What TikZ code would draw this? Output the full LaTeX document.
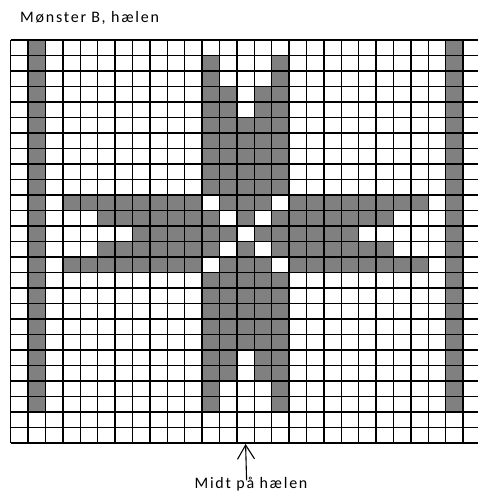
\documentclass[tikz,border=0pt]{standalone}
\usepackage{fontspec}
\setmainfont{Carlito}[LetterSpace=11]
\usepackage{tikz}
\usetikzlibrary{arrows.meta}

\begin{document}
\begin{tikzpicture}[
    x=1pt, y=-1pt,
    gitter/.style={draw=black, line width=1.3pt},
    celle/.style={fill=black!50},
    tekst/.style={inner sep=0pt, font=\fontsize{16}{19}\selectfont},
    pil/.style={-{Straight Barb[length=14pt, width=17pt]}, line width=1.1pt}
]
\useasboundingbox (0,0) rectangle (478,491);
\node[tekst, anchor=base west] (tittel) at (20,22.3) {Mønster B, hælen};

% strikkediagram: 27 masker x 26 pinder
\begin{scope}[shift={(10.7,40)}, x=17.4pt, y=-15.5pt]
  \foreach \r/\cs in {0/{1,25}, 1/{1,11,15,25}, 2/{1,11,15,25},
      3/{1,11,12,14,15,25}, 4/{1,11,12,14,15,25},
      5/{1,11,12,13,14,15,25}, 6/{1,11,12,13,14,15,25},
      7/{1,11,12,13,14,15,25}, 8/{1,11,12,13,14,15,25},
      9/{1,11,12,13,14,15,25},
      10/{1,3,4,5,6,7,8,9,10,12,13,14,16,17,18,19,20,21,22,23,25},
      11/{1,5,6,7,8,9,10,11,13,15,16,17,18,19,20,21,25},
      12/{1,7,8,9,10,11,12,14,15,16,17,18,19,25},
      13/{1,5,6,7,8,9,10,11,13,15,16,17,18,19,20,21,25},
      14/{1,3,4,5,6,7,8,9,10,12,13,14,16,17,18,19,20,21,22,23,25},
      15/{1,11,12,13,14,15,25}, 16/{1,11,12,13,14,15,25},
      17/{1,11,12,13,14,15,25}, 18/{1,11,12,13,14,15,25},
      19/{1,11,12,13,14,15,25},
      20/{1,11,12,14,15,25}, 21/{1,11,12,14,15,25},
      22/{1,11,15,25}, 23/{1,11,15,25}}
    \foreach \c in \cs
      \fill[celle] (\c,\r) rectangle ++(1,1);
  \foreach \c in {0,...,27}
    \draw[gitter] (\c,0) -- (\c,26);
  \foreach \r in {0,...,26}
    \draw[gitter] (0,\r) -- (27,\r);
  \coordinate (bund) at (13.5,26);
\end{scope}

\node[tekst, anchor=base] (midt) at (251,488) {Midt på hælen};
\draw[pil] (midt.north -| bund) ++(1,4) -- ([yshift=-1pt]bund);
\end{tikzpicture}
\end{document}
